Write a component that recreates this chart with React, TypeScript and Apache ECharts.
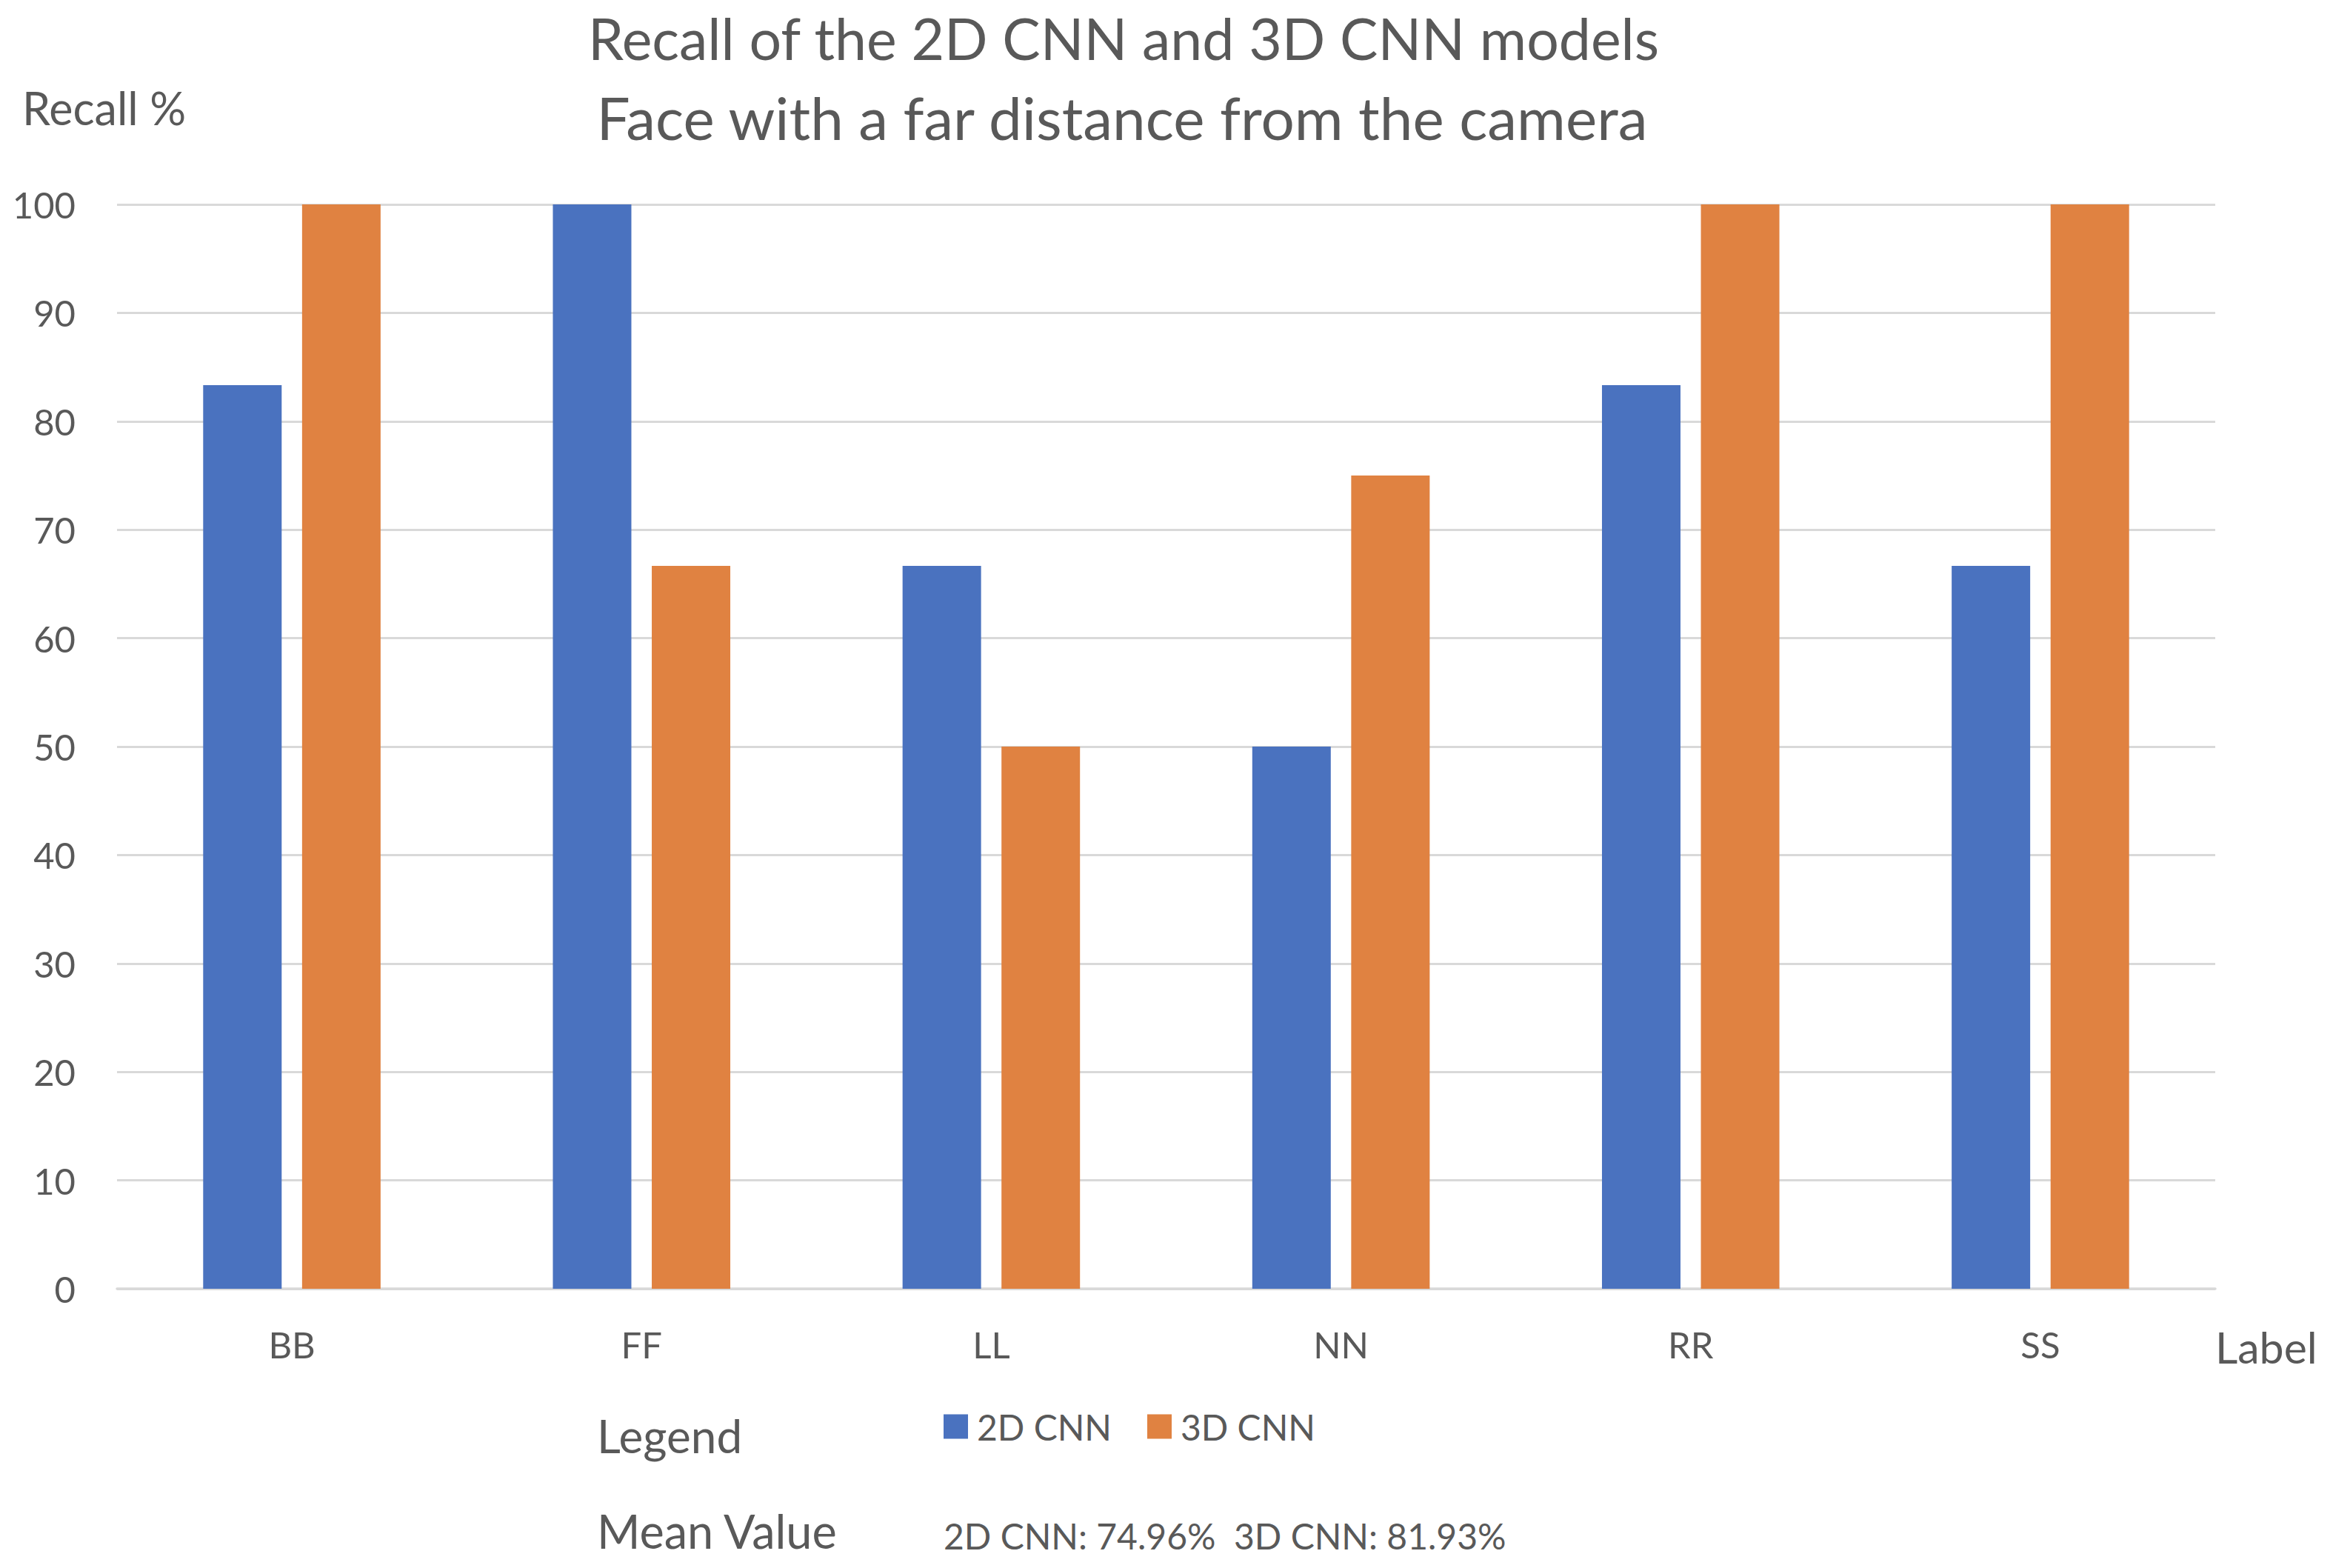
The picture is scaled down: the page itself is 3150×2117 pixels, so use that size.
import React, { useEffect, useRef } from "react";
import * as echarts from "echarts";

const categories = ["BB", "FF", "LL", "NN", "RR", "SS"];
const seriesNames = ["2D CNN", "3D CNN"];
const recall2D = [83.33, 100, 66.67, 50, 83.33, 66.67];
const recall3D = [100, 66.67, 50, 75, 100, 100];
const meanValues = [74.96, 81.93];
const titleLines = [
  "Recall of the 2D CNN and 3D CNN models",
  "Face with a far distance from the camera",
];

const FONT = "Lato, 'Open Sans', sans-serif";
const TEXT = "#595959";
const GRID = "#D9D9D9";
const BLUE = "#4A72BF";
const ORANGE = "#E08241";

export default function App() {
  const ref = useRef<HTMLDivElement>(null);

  useEffect(() => {
    document.body.style.margin = "0";
    if (!ref.current) return;
    const chart = echarts.init(ref.current, undefined, { renderer: "svg" });
    const meanText = `${seriesNames[0]}: ${meanValues[0].toFixed(2)}%  ${seriesNames[1]}: ${meanValues[1].toFixed(2)}%`;
    chart.setOption({
      animation: false,
      backgroundColor: "#FFFFFF",
      textStyle: { fontFamily: FONT },
      grid: { left: 158, right: 159, top: 276, bottom: 377, containLabel: false },
      legend: {
        data: seriesNames,
        left: 1274,
        top: 1902,
        padding: 0,
        itemWidth: 33,
        itemHeight: 33,
        itemGap: 48,
        icon: "rect",
        textStyle: { fontSize: 48, color: TEXT, fontFamily: FONT, padding: [0, 0, 0, 7] },
      },
      xAxis: {
        type: "category",
        data: categories,
        axisLine: { show: true, lineStyle: { color: GRID, width: 3.5 } },
        axisTick: { show: false },
        axisLabel: { fontSize: 49, color: TEXT, margin: 50, fontFamily: FONT },
      },
      yAxis: {
        type: "value",
        min: 0,
        max: 100,
        interval: 10,
        axisLine: { show: false },
        axisTick: { show: false },
        axisLabel: { fontSize: 49, color: TEXT, margin: 56, fontFamily: FONT },
        splitLine: { lineStyle: { color: GRID, width: 3 } },
      },
      series: [
        {
          name: seriesNames[0],
          type: "bar",
          data: recall2D,
          barWidth: 106,
          barGap: "26%",
          itemStyle: { color: BLUE },
        },
        {
          name: seriesNames[1],
          type: "bar",
          data: recall3D,
          barWidth: 106,
          barGap: "26%",
          itemStyle: { color: ORANGE },
        },
      ],
      graphic: [
        {
          type: "text",
          x: 1517,
          y: 51,
          style: { text: titleLines[0], fontSize: 77, fontFamily: FONT, fill: TEXT, align: "center", verticalAlign: "middle" },
        },
        {
          type: "text",
          x: 1515,
          y: 158,
          style: { text: titleLines[1], fontSize: 80, fontFamily: FONT, fill: TEXT, align: "center", verticalAlign: "middle" },
        },
        {
          type: "text",
          x: 30,
          y: 145,
          style: { text: "Recall %", fontSize: 61, fontFamily: FONT, fill: TEXT, align: "left", verticalAlign: "middle" },
        },
        {
          type: "text",
          x: 2991,
          y: 1818,
          style: { text: "Label", fontSize: 59, fontFamily: FONT, fill: TEXT, align: "left", verticalAlign: "middle" },
        },
        {
          type: "text",
          x: 806,
          y: 1938,
          style: { text: "Legend", fontSize: 62, fontFamily: FONT, fill: TEXT, align: "left", verticalAlign: "middle" },
        },
        {
          type: "text",
          x: 806,
          y: 2066,
          style: { text: "Mean Value", fontSize: 63, fontFamily: FONT, fill: TEXT, align: "left", verticalAlign: "middle" },
        },
        {
          type: "text",
          x: 1274,
          y: 2073,
          style: { text: meanText, fontSize: 48, fontFamily: FONT, fill: TEXT, align: "left", verticalAlign: "middle" },
        },
      ],
    });
    return () => chart.dispose();
  }, []);

  return <div ref={ref} style={{ width: 3150, height: 2117 }} />;
}
